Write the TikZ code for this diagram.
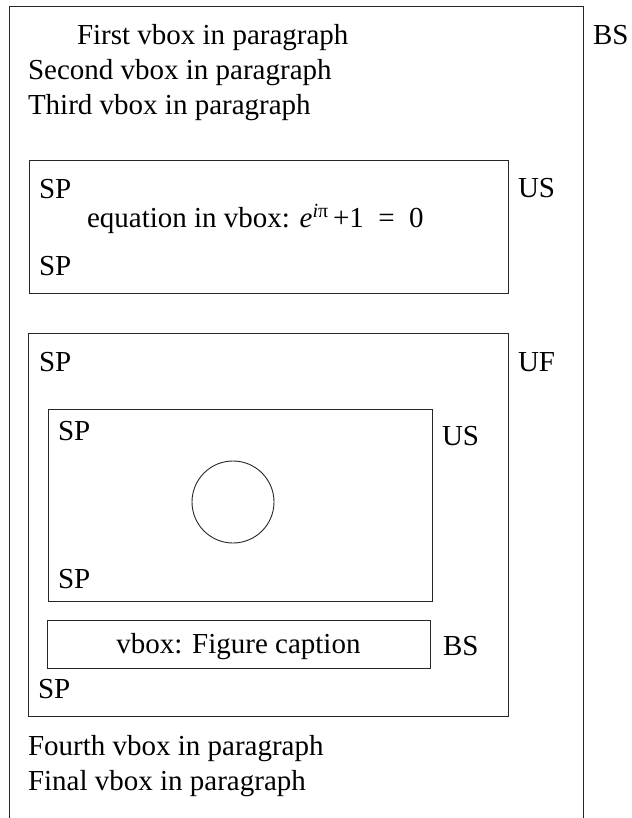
\documentclass[tikz,border=0pt]{standalone}
\usepackage{fontspec}
\setmainfont{Liberation Serif}
\begin{document}
\begin{tikzpicture}[x=1pt,y=1pt,
  every node/.style={inner sep=0pt, outer sep=0pt},
  lbl/.style={anchor=base west, font=\fontsize{29}{33}\selectfont},
  boxln/.style={draw=black!85, line width=0.9pt},
  frame/.style={boxln, rectangle, anchor=north west}]
\useasboundingbox (0,0) rectangle (631,-818);
% outer box (open at the bottom)
\coordinate (obl) at (9,-818);
\coordinate (otl) at (9,-6);
\coordinate (otr) at (583,-6);
\coordinate (obr) at (583,-818);
\draw[boxln] (obl) -- (otl) -- (otr) -- (obr);
\node[lbl] (bs1) at (593,-45) {BS};
\node[lbl] (l1) at (77,-45) {First vbox in paragraph};
\node[lbl] (l2) at (28,-80) {Second vbox in paragraph};
\node[lbl] (l3) at (28,-115) {Third vbox in paragraph};
% equation box
\node[frame, minimum width=479pt, minimum height=133pt] (eqbox) at (29,-160) {};
\node[lbl] (sp1) at (39,-199) {SP};
\node[lbl] (eq) at (87,-228) {equation in vbox: \textit{e}\raisebox{10pt}{\fontsize{20}{20}\selectfont\textit{i}π}\,+1\,\,\,=\,\,\,0};
\node[lbl] (sp2) at (39,-275) {SP};
\node[lbl] (us1) at (518,-198) {US};
% figure box
\node[frame, minimum width=480pt, minimum height=383pt] (ufbox) at (28,-333) {};
\node[lbl] (sp3) at (39,-371) {SP};
\node[lbl] (uf) at (518,-371) {UF};
\node[frame, minimum width=384pt, minimum height=192pt] (usbox) at (48,-409) {};
\node[lbl] (sp4) at (58,-440) {SP};
\node[lbl] (us2) at (442,-445) {US};
\node[draw=black!85, line width=0.9pt, circle, minimum size=82pt] (circ) at (233,-502) {};
\node[lbl] (sp5) at (58,-588) {SP};
\node[frame, minimum width=383pt, minimum height=48pt] (capbox) at (47,-620) {};
\node[anchor=base, font=\fontsize{29}{33}\selectfont] (cap) at (238.5,-653) {vbox: Figure caption};
\node[lbl] (bs2) at (443,-655) {BS};
\node[lbl] (sp6) at (38,-698) {SP};
\node[lbl] (l4) at (28,-755) {Fourth vbox in paragraph};
\node[lbl] (l5) at (28,-790) {Final vbox in paragraph};
\end{tikzpicture}
\end{document}
